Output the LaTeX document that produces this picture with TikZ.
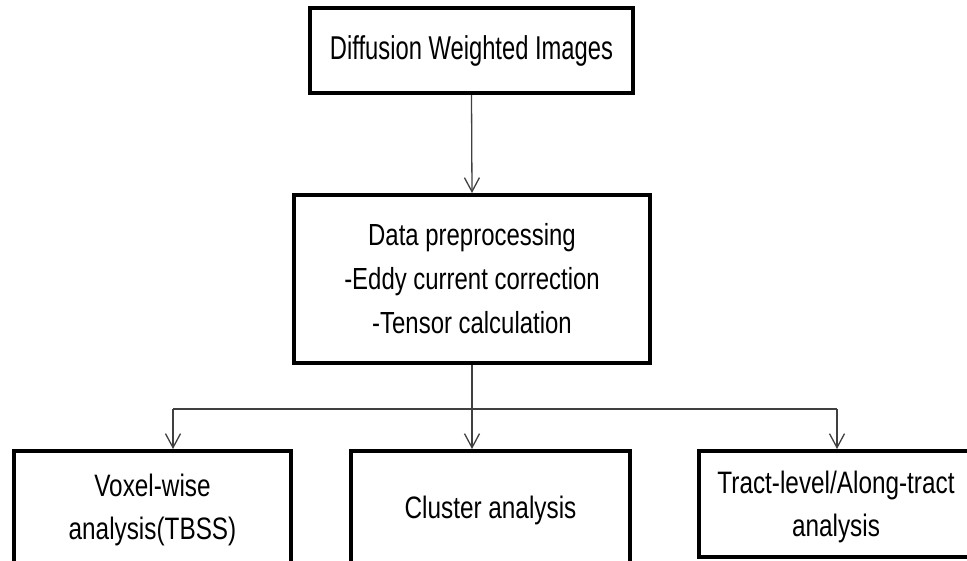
\documentclass[tikz,border=0pt]{standalone}
\usepackage{fontspec}
\usetikzlibrary{arrows.meta}
\newfontfamily\topfont{Liberation Sans}[FakeStretch=0.72]
\newfontfamily\boxfont{Liberation Sans}[FakeStretch=0.785]
\definecolor{linegray}{HTML}{404040}
\begin{document}
\begin{tikzpicture}[x=1pt,y=-1pt,
  box/.style={draw=black, line width=4pt, fill=white, inner sep=0pt, align=center},
  lowbox/.style={box, text depth=0pt, font=\boxfont\fontsize{31pt}{43pt}\selectfont},
  conn/.style={draw=linegray, line width=1.3pt, -{Straight Barb[length=14pt,width=15pt,line width=1.3pt]}},
  plain/.style={draw=linegray, line width=1.3pt}]
\useasboundingbox (0,0) rectangle (967,560);
\clip (0,0) rectangle (967,560);
\node[box, minimum width=323pt, minimum height=85pt,
      font=\topfont\fontsize{33pt}{40pt}\selectfont] (top) at (471.5,50.5) {Diffusion Weighted Images};
\node[box, minimum width=356pt, minimum height=168pt,
      font=\boxfont\fontsize{30.5pt}{44pt}\selectfont] (mid) at (472,279)
      {Data preprocessing\\-Eddy current correction\\-Tensor calculation};
\node[lowbox, minimum width=277pt, minimum height=112pt] (vox) at (152.5,507)
      {Voxel-wise\\analysis(TBSS)};
\node[lowbox, minimum width=279pt, minimum height=112pt] (clu) at (490.5,507)
      {Cluster analysis};
\node[lowbox, minimum width=274pt, minimum height=106pt] (tract) at (836,504)
      {Tract-level/Along-tract\\analysis};
\coordinate (bl) at (173,409);
\coordinate (br) at (837,409);
\draw[conn] (top.south) -- (mid.north);
\draw[conn] (mid.south) -- (mid.south |- clu.north);
\draw[plain] (bl) -- (br);
\draw[conn] (bl) -- (bl |- vox.north);
\draw[conn] (br) -- (br |- tract.north);
\end{tikzpicture}
\end{document}
